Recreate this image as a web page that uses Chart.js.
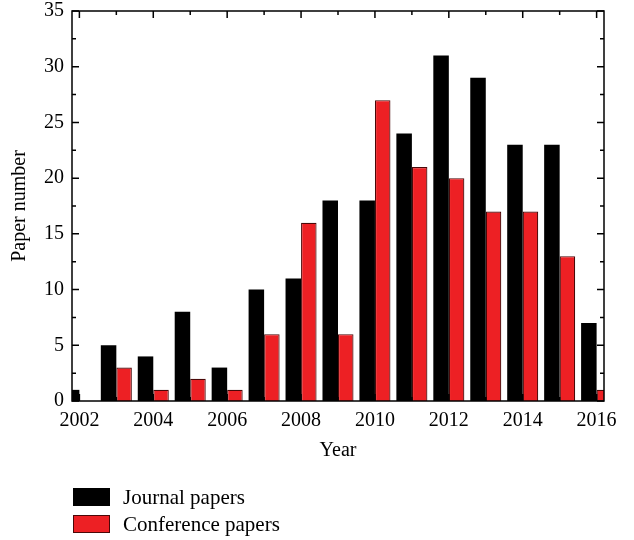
<!DOCTYPE html>
<html lang="en">
<head>
  <meta charset="UTF-8" />
  <title>Paper number by year</title>
  <script src="https://cdn.jsdelivr.net/npm/chart.js"></script>
  <style>
    body { margin: 0; background: #fff; font-family: "Liberation Serif", serif; }
    #wrap { position: relative; width: 634px; height: 540px; }
    #chart { position: absolute; left: 0; top: 0; }
    .legend-item { position: absolute; left: 73px; height: 18px; display: flex; align-items: center; font-size: 21px; color: #000; white-space: nowrap; }
    .legend-box { width: 37px; height: 18px; box-sizing: border-box; margin-right: 13px; }
  </style>
</head>
<body>
<div id="wrap">
  <canvas id="chart" width="634" height="540"></canvas>
  <div id="legend"></div>
</div>

<script>
const years = [2002, 2003, 2004, 2005, 2006, 2007, 2008, 2009, 2010, 2011, 2012, 2013, 2014, 2015, 2016];
const journal = [1, 5, 4, 8, 3, 10, 11, 18, 18, 24, 31, 29, 23, 23, 7];
const conference = [0, 3, 1, 2, 1, 6, 16, 6, 27, 21, 20, 17, 17, 13, 1];
const xTickLabels = [2002, 2004, 2006, 2008, 2010, 2012, 2014, 2016];
const yTickLabels = [0, 5, 10, 15, 20, 25, 30, 35];

const RED = '#ed2024';
const font = { family: '"Liberation Serif", serif', size: 20 };

// frame round the plot, with inward ticks on all four sides
const frameTicks = {
  id: 'frameTicks',
  afterDraw(chart) {
    const { ctx, chartArea: a, scales: { x, y } } = chart;
    ctx.save();
    ctx.strokeStyle = '#000';
    ctx.lineWidth = 1.5;
    ctx.strokeRect(a.left, a.top, a.right - a.left, a.bottom - a.top);
    ctx.beginPath();
    for (const v of years) {
      const px = x.getPixelForValue(v);
      const len = xTickLabels.includes(v) ? 7 : 4;
      ctx.moveTo(px, a.bottom); ctx.lineTo(px, a.bottom - len);
      ctx.moveTo(px, a.top); ctx.lineTo(px, a.top + len);
    }
    const yMax = yTickLabels[yTickLabels.length - 1];
    for (let v = 0; v <= yMax; v += 2.5) {
      const py = y.getPixelForValue(v);
      const len = v % 5 === 0 ? 7 : 4;
      ctx.moveTo(a.left, py); ctx.lineTo(a.left + len, py);
      ctx.moveTo(a.right, py); ctx.lineTo(a.right - len, py);
    }
    ctx.stroke();
    ctx.restore();
  }
};

const chart = new Chart(document.getElementById('chart'), {
  type: 'bar',
  data: {
    datasets: [
      {
        label: 'Journal papers',
        data: years.map((yr, i) => ({ x: yr, y: journal[i] })),
        backgroundColor: '#000',
        borderColor: '#000',
        borderWidth: 0,
        clip: 0
      },
      {
        label: 'Conference papers',
        data: years.map((yr, i) => ({ x: yr, y: conference[i] })),
        backgroundColor: RED,
        borderColor: '#4a0808',
        borderWidth: 1.2,
        clip: 0
      }
    ]
  },
  options: {
    responsive: false,
    animation: false,
    layout: { autoPadding: false, padding: { left: 0, right: 30, top: 11, bottom: 77 } },
    datasets: { bar: { categoryPercentage: 0.84, barPercentage: 1.0 } },
    plugins: { legend: { display: false }, tooltip: { enabled: false } },
    scales: {
      x: {
        type: 'linear',
        min: years[0] - 0.2,
        max: years[years.length - 1] + 0.2,
        offset: false,
        grid: { display: false, drawTicks: false },
        border: { display: false },
        afterBuildTicks: s => { s.ticks = xTickLabels.map(v => ({ value: v })); },
        afterFit: s => { s.height = 62; s.paddingLeft = 0; s.paddingRight = 0; },
        ticks: { color: '#000', font: font, padding: 8, maxRotation: 0, callback: v => String(v) },
        title: { display: true, text: 'Year', color: '#000', font: font, padding: { top: 0, bottom: 0 } }
      },
      y: {
        min: 0,
        max: 35,
        grid: { display: false, drawTicks: false },
        border: { display: false },
        afterBuildTicks: s => { s.ticks = yTickLabels.map(v => ({ value: v })); },
        afterFit: s => { s.width = 72; s.paddingTop = 0; s.paddingBottom = 0; },
        ticks: { color: '#000', font: font, padding: 8 },
        title: { display: true, text: 'Paper number', color: '#000', font: font, padding: { top: 8, bottom: 0 } }
      }
    }
  },
  plugins: [frameTicks]
});

// legend below the plot, one item per line
const legend = document.getElementById('legend');
const legendTops = [488, 515];
chart.data.datasets.forEach((ds, i) => {
  const item = document.createElement('div');
  item.className = 'legend-item';
  item.style.top = legendTops[i] + 'px';
  const box = document.createElement('span');
  box.className = 'legend-box';
  box.style.background = ds.backgroundColor;
  if (ds.borderWidth) box.style.border = '1px solid ' + ds.borderColor;
  item.appendChild(box);
  item.appendChild(document.createTextNode(ds.label));
  legend.appendChild(item);
});
</script>
</body>
</html>
